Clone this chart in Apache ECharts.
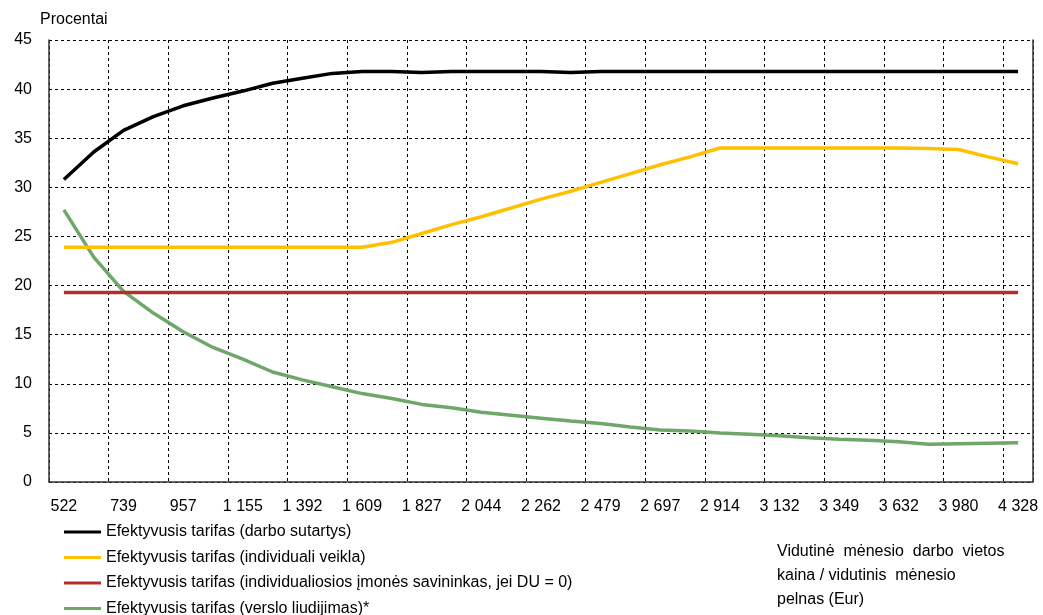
<!DOCTYPE html>
<html>
<head>
<meta charset="utf-8">
<script src="https://cdn.jsdelivr.net/npm/echarts@6/dist/echarts.min.js"></script>
<style>
  html, body { margin: 0; padding: 0; background: #ffffff; }
  #chart { width: 1043px; height: 615px; }
</style>
</head>
<body>
<div id="chart"></div>
<script>
// Monthly workplace cost / monthly profit (Eur); every other value is labelled
const categories = ['522', '630', '739', '848', '957', '1 056', '1 155', '1 274', '1 392', '1 500',
  '1 609', '1 718', '1 827', '1 936', '2 044', '2 153', '2 262', '2 370', '2 479', '2 588',
  '2 697', '2 806', '2 914', '3 023', '3 132', '3 240', '3 349', '3 490', '3 632', '3 806',
  '3 980', '4 154', '4 328'];

// Effective rates, percent
const darboSutartys = [30.8, 33.6, 35.8, 37.2, 38.3, 39.1, 39.8, 40.6, 41.1, 41.6,
  41.8, 41.8, 41.7, 41.8, 41.8, 41.8, 41.8, 41.7, 41.8, 41.8,
  41.8, 41.8, 41.8, 41.8, 41.8, 41.8, 41.8, 41.8, 41.8, 41.8,
  41.8, 41.8, 41.8];
const individualiVeikla = [23.9, 23.9, 23.9, 23.9, 23.9, 23.9, 23.9, 23.9, 23.9, 23.9,
  23.9, 24.4, 25.3, 26.2, 27.0, 27.9, 28.8, 29.6, 30.5, 31.4,
  32.3, 33.1, 34.0, 34.0, 34.0, 34.0, 34.0, 34.0, 34.0, 33.95,
  33.85, 33.1, 32.4];
const imonesSavininkas = [19.3, 19.3, 19.3, 19.3, 19.3, 19.3, 19.3, 19.3, 19.3, 19.3,
  19.3, 19.3, 19.3, 19.3, 19.3, 19.3, 19.3, 19.3, 19.3, 19.3,
  19.3, 19.3, 19.3, 19.3, 19.3, 19.3, 19.3, 19.3, 19.3, 19.3,
  19.3, 19.3, 19.3];
const versloLiudijimas = [27.7, 22.9, 19.4, 17.2, 15.3, 13.7, 12.5, 11.2, 10.4, 9.7,
  9.0, 8.5, 7.9, 7.55, 7.1, 6.8, 6.5, 6.2, 5.95, 5.6,
  5.3, 5.2, 5.0, 4.85, 4.7, 4.5, 4.35, 4.25, 4.1, 3.85,
  3.9, 3.95, 4.0];

const yTicks = { min: 0, max: 45, interval: 5 };

const seriesNames = [
  'Efektyvusis tarifas (darbo sutartys)',
  'Efektyvusis tarifas (individuali veikla)',
  'Efektyvusis tarifas (individualiosios įmonės savininkas, jei DU = 0)',
  'Efektyvusis tarifas (verslo liudijimas)*'
];
const seriesColors = ['#000000', '#ffc000', '#b22f2b', '#6fa66a'];
const seriesData = [darboSutartys, individualiVeikla, imonesSavininkas, versloLiudijimas];
const seriesWidths = [3.5, 3.5, 3.5, 3.5];

const FONT = '"Liberation Sans", Arial, sans-serif';

const chart = echarts.init(document.getElementById('chart'), null, { renderer: 'canvas' });

const option = {
  backgroundColor: '#ffffff',
  animation: false,
  textStyle: { fontFamily: FONT },
  title: {
    text: 'Procentai',
    left: 35,
    top: 7,
    textStyle: { fontFamily: FONT, fontSize: 16, fontWeight: 'normal', color: '#000000' }
  },
  grid: { left: 49, right: 10, top: 40, bottom: 133, containLabel: false },
  legend: {
    orient: 'vertical',
    left: 64,
    top: 523,
    height: 200,
    padding: 0,
    icon: 'rect',
    itemWidth: 37,
    itemHeight: 3,
    itemGap: 7.5,
    textStyle: { fontFamily: FONT, fontSize: 16, color: '#000000', lineHeight: 18 },
    data: seriesNames.map(n => ({ name: n }))
  },
  xAxis: {
    type: 'category',
    data: categories,
    boundaryGap: true,
    axisLine: { show: true, lineStyle: { color: '#333333', width: 1.5 } },
    axisTick: { show: false },
    axisLabel: { interval: 1, margin: 17, fontFamily: FONT, fontSize: 16, color: '#000000' },
    splitLine: { show: true, interval: 1, lineStyle: { color: '#000000', type: [3, 3], width: 1 } }
  },
  yAxis: [
    {
      type: 'value',
      min: yTicks.min,
      max: yTicks.max,
      interval: yTicks.interval,
      axisLine: { show: true, lineStyle: { color: '#333333', width: 1.5 } },
      axisTick: { show: false },
      axisLabel: { margin: 17, fontFamily: FONT, fontSize: 16, color: '#000000' },
      splitLine: { show: true, lineStyle: { color: '#000000', type: [3, 3], width: 1 } }
    },
    {
      type: 'value',
      position: 'right',
      min: yTicks.min,
      max: yTicks.max,
      interval: yTicks.interval,
      axisLine: { show: true, lineStyle: { color: '#333333', width: 1.5 } },
      axisTick: { show: false },
      axisLabel: { show: false },
      splitLine: { show: false }
    }
  ],
  series: seriesNames.map((name, i) => ({
    name: name,
    type: 'line',
    data: seriesData[i],
    yAxisIndex: 0,
    symbol: 'none',
    smooth: false,
    color: seriesColors[i],
    lineStyle: { color: seriesColors[i], width: seriesWidths[i] },
    z: 10 - i
  })),
  graphic: [
    {
      type: 'text',
      left: 777,
      top: 540,
      style: {
        text: 'Vidutinė  mėnesio  darbo  vietos\nkaina / vidutinis  mėnesio\npelnas (Eur)',
        font: '16px ' + FONT,
        fill: '#000000',
        lineHeight: 24
      }
    }
  ]
};

chart.setOption(option);
</script>
</body>
</html>
